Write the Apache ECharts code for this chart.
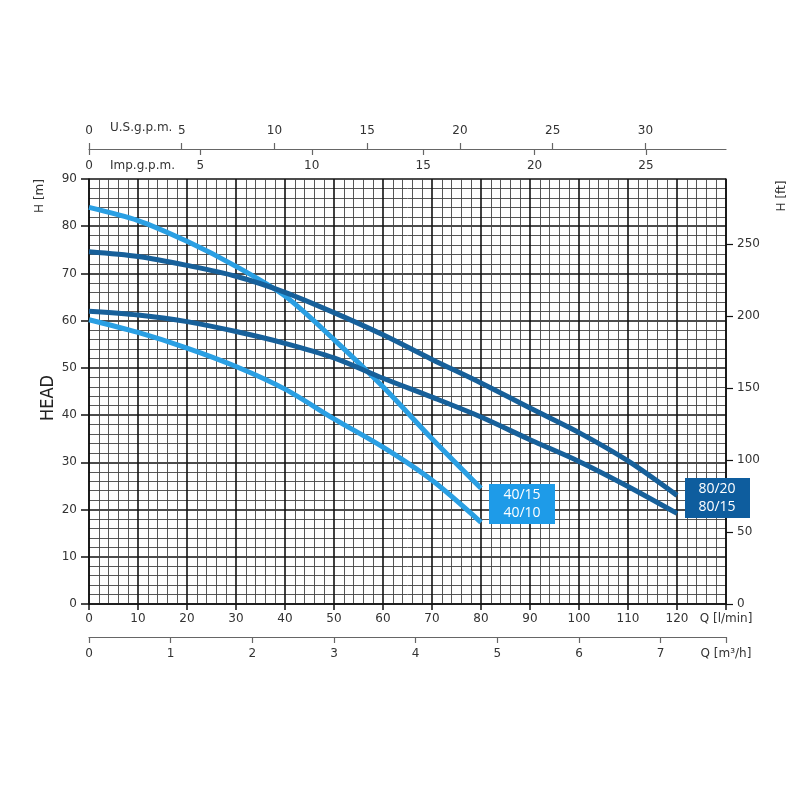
<!DOCTYPE html>
<html>
<head>
<meta charset="utf-8">
<script src="https://cdn.jsdelivr.net/npm/echarts@6/dist/echarts.min.js"></script>
<style>
  html, body { margin: 0; padding: 0; background: #fff; }
  #main { width: 800px; height: 800px; }
</style>
</head>
<body>
<div id="main"></div>
<script>
var chartDom = document.getElementById('main');
var myChart = echarts.init(chartDom);
var option;

// flow in l/min where the curves were read
const q40 = [0, 10, 20, 30, 40, 50, 60, 70, 80];
const q80 = [0, 10, 20, 30, 40, 50, 60, 70, 80, 90, 100, 110, 120];

// head in metres for each pump
const h4015 = [84, 81.2, 76.8, 71.5, 65.2, 56, 46, 35, 24.5];
const h4010 = [60.2, 57.5, 54.2, 50.3, 45.5, 39.2, 33.2, 26.2, 17.3];
const h8020 = [74.6, 73.6, 71.7, 69.4, 66, 61.7, 57, 51.8, 46.8, 41.5, 36.3, 30.3, 23];
const h8015 = [62, 61.2, 59.8, 57.7, 55.2, 52.1, 47.8, 43.8, 39.6, 34.8, 30.2, 24.9, 19.2];

// tick labels of the secondary scales
const usGpmTicks = [0, 5, 10, 15, 20, 25, 30];
const impGpmTicks = [0, 5, 10, 15, 20, 25];
const m3hTicks = [0, 1, 2, 3, 4, 5, 6, 7, 7.8];
const ftTicks = [0, 50, 100, 150, 200, 250];

const lightBlue = '#2a9fe3';
const darkBlue = '#17609a';
const textColor = '#333';
const font = 'DejaVu Sans';

function pairs(xs, ys) {
    return xs.map((x, i) => [x, ys[i]]);
}

function curve(name, xs, ys, color) {
    return {
        name: name,
        type: 'line',
        smooth: 0.3,
        symbol: 'none',
        xAxisIndex: 0,
        yAxisIndex: 0,
        lineStyle: { color: color, width: 5 },
        data: pairs(xs, ys),
        z: 5
    };
}

const labelStyle = { color: textColor, fontSize: 12, fontFamily: font };

option = {
    backgroundColor: '#fff',
    animation: false,
    grid: { left: 89, right: 74, top: 179, bottom: 196 },
    xAxis: [
        {
            // l/min
            type: 'value', min: 0, max: 130, interval: 10, position: 'bottom',
            axisLine: { show: true, onZero: false, lineStyle: { color: '#111', width: 1.5 } },
            axisTick: { show: true, length: 6, lineStyle: { color: '#111', width: 1.5 } },
            axisLabel: Object.assign({
                margin: 9,
                showMaxLabel: true,
                formatter: v => v === 130 ? 'Q [l/min]' : v
            }, labelStyle),
            splitLine: { show: true, lineStyle: { color: '#111', width: 1.6 } },
            minorTick: { show: false, splitNumber: 5 },
            minorSplitLine: { show: true, lineStyle: { color: '#444', width: 0.9 } }
        },
        {
            // U.S. gpm
            type: 'value', min: 0, max: 130 / 3.78541, position: 'top', offset: 30,
            axisLine: { show: true, onZero: false, lineStyle: { color: '#666', width: 1.2 } },
            axisTick: { show: true, length: 6, customValues: usGpmTicks, lineStyle: { color: '#666', width: 1.2 } },
            axisLabel: Object.assign({ margin: 12, customValues: usGpmTicks }, labelStyle),
            splitLine: { show: false }
        },
        {
            // Imp. gpm
            type: 'value', min: 0, max: 130 / 4.54609, position: 'top', offset: 30,
            axisLine: { show: false, onZero: false },
            axisTick: { show: true, inside: true, length: 6, customValues: impGpmTicks, lineStyle: { color: '#666', width: 1.2 } },
            axisLabel: Object.assign({ inside: true, margin: 11, customValues: impGpmTicks }, labelStyle),
            splitLine: { show: false }
        },
        {
            // m3/h
            type: 'value', min: 0, max: 7.8, position: 'bottom', offset: 33,
            axisLine: { show: true, onZero: false, lineStyle: { color: '#666', width: 1.2 } },
            axisTick: { show: true, length: 6, customValues: m3hTicks, lineStyle: { color: '#666', width: 1.2 } },
            axisLabel: Object.assign({
                margin: 11, customValues: m3hTicks,
                formatter: v => v === 7.8 ? 'Q [m³/h]' : v
            }, labelStyle),
            splitLine: { show: false }
        }
    ],
    yAxis: [
        {
            type: 'value', min: 0, max: 90, interval: 10, position: 'left',
            axisLine: { show: true, onZero: false, lineStyle: { color: '#111', width: 1.5 } },
            axisTick: { show: true, length: 8, lineStyle: { color: '#111', width: 1.5 } },
            axisLabel: Object.assign({ margin: 12 }, labelStyle),
            splitLine: { show: true, lineStyle: { color: '#111', width: 1.6 } },
            minorTick: { show: false, splitNumber: 5 },
            minorSplitLine: { show: true, lineStyle: { color: '#444', width: 0.9 } }
        },
        {
            // feet
            type: 'value', min: 0, max: 90 / 0.3048, position: 'right',
            axisLine: { show: true, onZero: false, lineStyle: { color: '#111', width: 1.5 } },
            axisTick: { show: true, length: 7, customValues: ftTicks, lineStyle: { color: '#111', width: 1.2 } },
            axisLabel: Object.assign({ margin: 11, customValues: ftTicks }, labelStyle),
            splitLine: { show: false }
        }
    ],
    series: [
        curve('40/15', q40, h4015, lightBlue),
        curve('40/10', q40, h4010, lightBlue),
        curve('80/20', q80, h8020, darkBlue),
        curve('80/15', q80, h8015, darkBlue)
    ],
    graphic: {
        elements: [
            { type: 'text', left: 110, top: 122, style: { text: 'U.S.g.p.m.', fill: textColor, font: '12px ' + font } },
            { type: 'text', left: 110, top: 160, style: { text: 'Imp.g.p.m.', fill: textColor, font: '12px ' + font } },
            { type: 'text', x: 40, y: 196, rotation: Math.PI / 2, style: { text: 'H [m]', fill: textColor, font: '12px ' + font, align: 'center', verticalAlign: 'middle' } },
            { type: 'text', x: 782, y: 196, rotation: Math.PI / 2, style: { text: 'H [ft]', fill: textColor, font: '12px ' + font, align: 'center', verticalAlign: 'middle' } },
            { type: 'text', x: 48, y: 398, rotation: Math.PI / 2, style: { text: 'HEAD', fill: '#222', font: '18px "DejaVu Sans Condensed", "Liberation Sans Narrow", sans-serif', align: 'center', verticalAlign: 'middle' } },
            { type: 'rect', z: 100, shape: { x: 489, y: 484, width: 66, height: 40 }, style: { fill: '#1e9be8' } },
            { type: 'text', z: 101, x: 522, y: 495, style: { text: '40/15', fill: '#fff', font: '14px "Open Sans"', align: 'center', verticalAlign: 'middle' } },
            { type: 'text', z: 101, x: 522, y: 513, style: { text: '40/10', fill: '#fff', font: '14px "Open Sans"', align: 'center', verticalAlign: 'middle' } },
            { type: 'rect', z: 100, shape: { x: 685, y: 478, width: 65, height: 40 }, style: { fill: '#0e5d9e' } },
            { type: 'text', z: 101, x: 717, y: 489, style: { text: '80/20', fill: '#fff', font: '14px "Open Sans"', align: 'center', verticalAlign: 'middle' } },
            { type: 'text', z: 101, x: 717, y: 507, style: { text: '80/15', fill: '#fff', font: '14px "Open Sans"', align: 'center', verticalAlign: 'middle' } }
        ]
    }
};

myChart.setOption(option);
</script>
</body>
</html>
